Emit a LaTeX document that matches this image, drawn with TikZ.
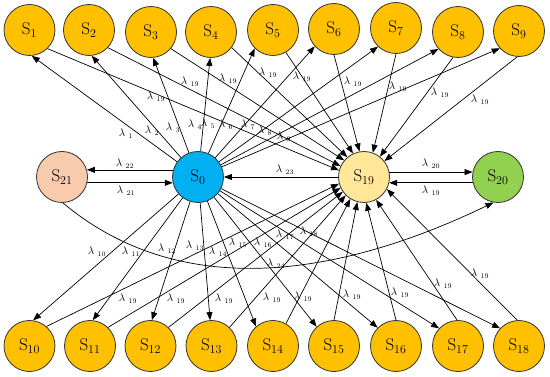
\documentclass[tikz,border=0pt]{standalone}
\usetikzlibrary{arrows.meta}
\definecolor{cOr}{HTML}{FFC000}
\definecolor{cBl}{HTML}{00B0F0}
\definecolor{cPe}{HTML}{F8CBAD}
\definecolor{cLy}{HTML}{FFE699}
\definecolor{cGr}{HTML}{92D050}
\definecolor{cBd}{HTML}{333333}
\begin{document}
\begin{tikzpicture}[x=1pt,y=-1pt,
  st/.style={circle,draw=cBd,line width=0.8pt,minimum size=51pt,inner sep=0pt,font=\fontsize{17}{20}\selectfont},
  ar/.style={-{Triangle[length=8pt,width=6pt]},line width=0.7pt,black},
  lbl/.style={font=\fontsize{10.5}{12}\selectfont,inner sep=0pt}]
\useasboundingbox (0,0) rectangle (550,377);
% nodes
\node[st,fill=cOr] (S1) at (29.5,30) {S$_{1}$};
\node[st,fill=cOr] (S2) at (89,30) {S$_{2}$};
\node[st,fill=cOr] (S3) at (151,32) {S$_{3}$};
\node[st,fill=cOr] (S4) at (211,32) {S$_{4}$};
\node[st,fill=cOr] (S5) at (273,30) {S$_{5}$};
\node[st,fill=cOr] (S6) at (334,29) {S$_{6}$};
\node[st,fill=cOr] (S7) at (396,28) {S$_{7}$};
\node[st,fill=cOr] (S8) at (458,32) {S$_{8}$};
\node[st,fill=cOr] (S9) at (519,31) {S$_{9}$};
\node[st,fill=cPe] (S21) at (62,177) {S$_{21}$};
\node[st,fill=cBl] (S0) at (198,177) {S$_{0}$};
\node[st,fill=cLy] (S19) at (364,177) {S$_{19}$};
\node[st,fill=cGr] (S20) at (498,177) {S$_{20}$};
\node[st,fill=cOr] (S10) at (29.5,346) {S$_{10}$};
\node[st,fill=cOr] (S11) at (90,346) {S$_{11}$};
\node[st,fill=cOr] (S12) at (150.5,346) {S$_{12}$};
\node[st,fill=cOr] (S13) at (211.5,346) {S$_{13}$};
\node[st,fill=cOr] (S14) at (273,346) {S$_{14}$};
\node[st,fill=cOr] (S15) at (334,346) {S$_{15}$};
\node[st,fill=cOr] (S16) at (396,346) {S$_{16}$};
\node[st,fill=cOr] (S17) at (458,346) {S$_{17}$};
\node[st,fill=cOr] (S18) at (519,346) {S$_{18}$};
% S0 -> Si
\foreach \n/\a in {1/-85,2/-84,3/-85,4/-92,5/-135,6/-138,7/-134,8/-139,9/-138,
                   10/82,11/84,12/87,13/93,14/131,15/132,16/135,17/137,18/137}
  \draw[ar] (S0) -- (S\n.\a);
% Si -> S19
\foreach \n/\a/\b in {1/-46/165,2/-43/155,3/-40/140,4/-37/130,5/-60/115,6/-90/100,7/-90/70,8/-101/52,9/-94/38,
                      10/49/-165,11/46/-155,12/46/-145,13/46/-135,14/60/-122,15/90/-105,16/90/-85,17/92/-62,18/94/-28}
  \draw[ar] (S\n.\a) -- (S19.\b);
% middle
\draw[ar] (S0.164) -- (S21.16);
\draw[ar] (S21.-13) -- (S0.-167);
\draw[ar] (S19) -- (S0);
\draw[ar] (S19.11) -- (S20.169);
\draw[ar] (S20.-167) -- (S19.-13);
\draw[ar] (S21.-88) .. controls (186,306) and (349.5,272) .. (S20.-100);
% labels
\foreach \n/\x/\y in {1/126/134,2/152/131,3/173/128,4/195/125,5/208/124,6/226/125,7/248/125,8/265/131,9/284/137,
                      10/97/252,11/131/252,12/167/249,13/195/246,14/218/252,15/238/243,16/263/243,17/285/235,18/309/232,
                      22/125/164,21/126/191,23/285/170,20/431/164,24/276/264}
  \node[lbl] (L\n) at (\x,\y) {$\lambda\ {}_{\n}$};
\foreach \k/\x/\y in {1/156/97,2/190/82,3/228/79,4/268/73,5/302/77,6/353/82,7/398/87,8/440/93,9/480/100,
                      10/128/299,11/176/299,12/224/299,13/272/298,14/303/297,15/352/295,16/400/293,17/443/284,18/480/274,
                      20/431/191}
  \node[lbl] (M\k) at (\x,\y) {$\lambda\ {}_{19}$};
\end{tikzpicture}
\end{document}
